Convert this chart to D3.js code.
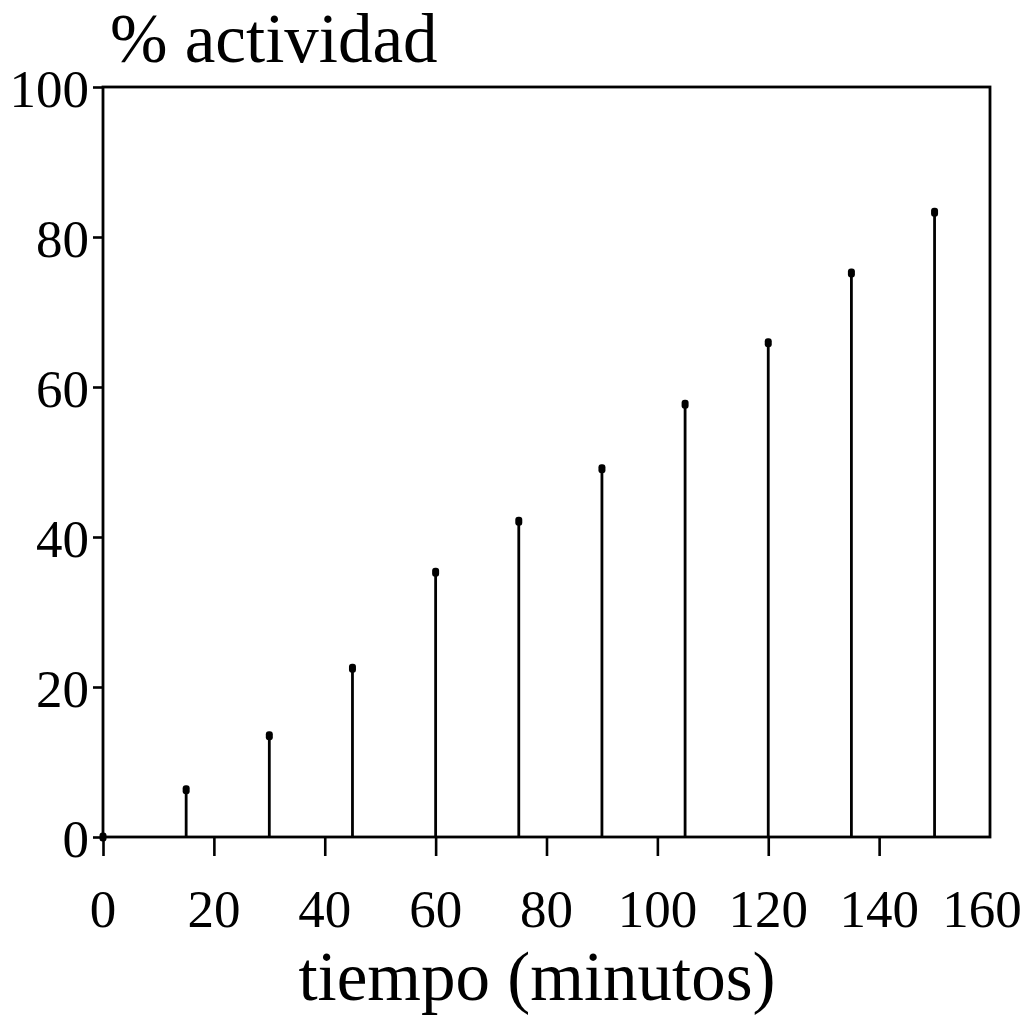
<!DOCTYPE html>
<html>
<head>
<meta charset="utf-8">
<script src="https://cdn.jsdelivr.net/npm/d3@7"></script>
<style>
  html, body { margin: 0; padding: 0; background: #fff; }
  svg { display: block; }
  text { font-family: "Liberation Serif", "DejaVu Serif", serif; fill: #000; }
</style>
</head>
<body>
<svg id="chart" width="1027" height="1023"></svg>
<script>
// Data
const times = [0, 15, 30, 45, 60, 75, 90, 105, 120, 135, 150];
const activity = [0, 6.3, 13.5, 22.5, 35.3, 42.1, 49.1, 57.7, 65.9, 75.2, 83.3];
const xTicks = [0, 20, 40, 60, 80, 100, 120, 140, 160];
const yTicks = [0, 20, 40, 60, 80, 100];
const xTitle = "tiempo (minutos)";
const yTitle = "% actividad";

(function () {
const svg = d3.select("#chart");
const pLeft = 103, pRight = 990, pTop = 87, pBottom = 837;

const x = d3.scaleLinear().domain([0, 160]).range([pLeft, pRight]);
const y = d3.scaleLinear().domain([0, 100]).range([pBottom, pTop]);

// frame
svg.append("rect")
  .attr("x", pLeft).attr("y", pTop)
  .attr("width", pRight - pLeft).attr("height", pBottom - pTop)
  .attr("fill", "none").attr("stroke", "#000").attr("stroke-width", 2.8);

// x axis ticks (below) + labels
const xAxis = d3.axisBottom(x).tickValues(xTicks.filter(d => d < 160)).tickSize(19).tickFormat("");
const gx = svg.append("g").attr("transform", `translate(0,${pBottom})`).call(xAxis);
gx.select(".domain").remove();
gx.selectAll(".tick line").attr("stroke", "#000").attr("stroke-width", 2.6);

svg.append("g").selectAll("text").data(xTicks).join("text")
  .attr("x", d => Math.min(x(d), 982)).attr("y", 927)
  .attr("text-anchor", "middle")
  .attr("font-size", 53)
  .text(d => d);

// y axis ticks (left) + labels
const yAxis = d3.axisLeft(y).tickValues(yTicks).tickSize(10).tickFormat("");
const gy = svg.append("g").attr("transform", `translate(${pLeft},0)`).call(yAxis);
gy.select(".domain").remove();
gy.selectAll(".tick line").attr("stroke", "#000").attr("stroke-width", 2.6);

svg.append("g").selectAll("text").data(yTicks).join("text")
  .attr("x", pLeft - 14).attr("y", d => y(d) + 20)
  .attr("text-anchor", "end")
  .attr("font-size", 53)
  .text(d => d);

// stems
const pts = times.map((t, i) => ({t, v: activity[i]}));
svg.append("g").selectAll("line").data(pts.filter(d => d.v > 0)).join("line")
  .attr("x1", d => x(d.t)).attr("x2", d => x(d.t))
  .attr("y1", y(0)).attr("y2", d => y(d.v))
  .attr("stroke", "#000").attr("stroke-width", 2.8);

// dots
svg.append("g").selectAll("rect").data(pts).join("rect")
  .attr("x", d => x(d.t) - 3.5).attr("y", d => y(d.v) - 4.5)
  .attr("width", 7).attr("height", 9)
  .attr("rx", 3).attr("ry", 3)
  .attr("fill", "#000");

// titles
svg.append("text")
  .attr("x", 110).attr("y", 62)
  .attr("font-size", 69)
  .text(yTitle);

svg.append("text")
  .attr("x", (297 + 777) / 2).attr("y", 1000)
  .attr("text-anchor", "middle")
  .attr("font-size", 69)
  .text(xTitle);
})();
</script>
</body>
</html>
